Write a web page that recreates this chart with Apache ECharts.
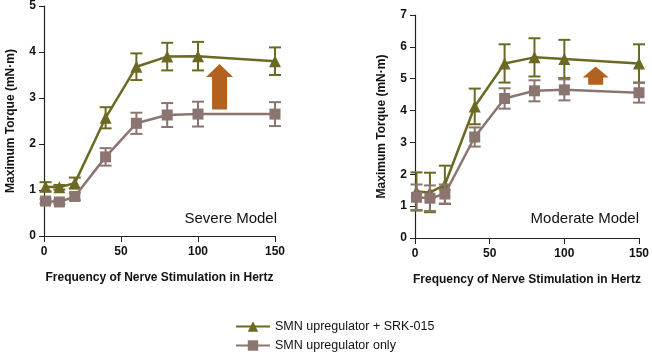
<!DOCTYPE html>
<html>
<head>
<meta charset="utf-8">
<script src="https://cdn.jsdelivr.net/npm/echarts@6/dist/echarts.min.js"></script>
<style>
  html, body { margin: 0; padding: 0; background: #fff; }
  #main { width: 652px; height: 352px; }
</style>
</head>
<body>
<div id="main"></div>
<script>
// 刺激频率 (Hz)
var freq = [1, 10, 20, 40, 60, 80, 100, 150]
// Severe model
var severeCombo = [1.07, 1.06, 1.15, 2.57, 3.68, 3.9, 3.91, 3.8]
var severeComboErr = [0.1, 0.05, 0.12, 0.23, 0.29, 0.3, 0.31, 0.3]
var severeOnly = [0.76, 0.74, 0.86, 1.72, 2.45, 2.63, 2.65, 2.65]
var severeOnlyErr = [0.05, 0.04, 0.08, 0.19, 0.23, 0.26, 0.27, 0.26]
// Moderate model
var moderateCombo = [1.46, 1.43, 1.67, 4.13, 5.48, 5.67, 5.62, 5.48]
var moderateComboErr = [0.6, 0.62, 0.6, 0.56, 0.6, 0.6, 0.6, 0.6]
var moderateOnly = [1.28, 1.25, 1.38, 3.17, 4.38, 4.62, 4.65, 4.56]
var moderateOnlyErr = [0.4, 0.4, 0.3, 0.3, 0.32, 0.33, 0.33, 0.31]
// arrows: [x, bottom, top]
var severeArrow = [114, 2.75, 3.74]
var moderateArrow = [121, 4.81, 5.38]
var seriesNames = ['SMN upregulator + SRK-015', 'SMN upregulator only']

var green = '#6b6a24'
var brown = '#8b7571'
var orange = '#b2621e'
var font = '"Liberation Sans", Arial, Helvetica, sans-serif'

function pairs(ys) {
  return freq.map(function(x, i) { return [x, ys[i]] })
}
function errData(ys, es) {
  return freq.map(function(x, i) { return [x, ys[i] - es[i], ys[i] + es[i]] })
}
function errSeries(ys, es, color, idx) {
  return {
    type: 'custom',
    xAxisIndex: idx,
    yAxisIndex: idx,
    silent: true,
    z: color === brown ? 3 : 1,
    data: errData(ys, es),
    renderItem: function(params, api) {
      var lo = api.coord([api.value(0), api.value(1)])
      var hi = api.coord([api.value(0), api.value(2)])
      var w = 6
      var st = { stroke: color, lineWidth: 2 }
      return {
        type: 'group',
        children: [
          { type: 'line', shape: { x1: lo[0], y1: lo[1], x2: hi[0], y2: hi[1] }, style: st },
          { type: 'line', shape: { x1: lo[0] - w, y1: lo[1], x2: lo[0] + w, y2: lo[1] }, style: st },
          { type: 'line', shape: { x1: hi[0] - w, y1: hi[1], x2: hi[0] + w, y2: hi[1] }, style: st }
        ]
      }
    }
  }
}
function arrowSeries(a, idx, shaftW, headW, headH) {
  return {
    type: 'custom',
    xAxisIndex: idx,
    yAxisIndex: idx,
    silent: true,
    data: [a],
    renderItem: function(params, api) {
      var b = api.coord([api.value(0), api.value(1)])
      var t = api.coord([api.value(0), api.value(2)])
      var x = b[0]
      var hb = t[1] + headH
      return {
        type: 'polygon',
        shape: {
          points: [
            [x - shaftW / 2, b[1]], [x - shaftW / 2, hb], [x - headW / 2, hb],
            [x, t[1]], [x + headW / 2, hb], [x + shaftW / 2, hb], [x + shaftW / 2, b[1]]
          ]
        },
        style: { fill: orange }
      }
    }
  }
}
function lineSeries(name, ys, color, symbol, size, idx) {
  return {
    name: name,
    type: 'line',
    xAxisIndex: idx,
    yAxisIndex: idx,
    data: pairs(ys),
    symbol: symbol,
    symbolSize: size,
    z: color === brown ? 4 : 2,
    lineStyle: { color: color, width: 2.5 },
    itemStyle: { color: color },
    emphasis: { disabled: true }
  }
}
function xAxis(idx) {
  return {
    type: 'value',
    gridIndex: idx,
    min: 0,
    max: 150,
    interval: 50,
    name: 'Frequency of Nerve Stimulation in Hertz',
    nameLocation: 'middle',
    nameGap: 36,
    nameTextStyle: { color: '#111', fontFamily: font, fontWeight: 'bold', fontSize: 12 },
    axisLine: { lineStyle: { color: '#222', width: 1.2 } },
    axisTick: { length: 6, lineStyle: { color: '#222' } },
    axisLabel: { color: '#111', fontFamily: font, fontWeight: 'bold', fontSize: 12, margin: 10 },
    splitLine: { show: false }
  }
}
function yAxis(idx, max) {
  return {
    type: 'value',
    gridIndex: idx,
    min: 0,
    max: max,
    interval: 1,
    name: 'Maximum Torque (mN·m)',
    nameLocation: 'middle',
    nameGap: 27,
    nameTextStyle: { color: '#111', fontFamily: font, fontWeight: 'bold', fontSize: 12 },
    axisLine: { show: true, lineStyle: { color: '#222', width: 1.2 } },
    axisTick: { show: true, length: 5, lineStyle: { color: '#222' } },
    axisLabel: { color: '#111', fontFamily: font, fontWeight: 'bold', fontSize: 12, margin: 8 },
    splitLine: { show: false }
  }
}
function legendItem(name, top) {
  return {
    left: 235,
    top: top,
    padding: 0,
    itemWidth: 34,
    itemHeight: 13,
    data: [name],
    selectedMode: false,
    textStyle: { color: '#111', fontFamily: font, fontSize: 12.5 }
  }
}

var myChart = echarts.init(document.getElementById('main'))
var option = {
  animation: false,
  backgroundColor: '#fff',
  grid: [
    { left: 44, top: 5, width: 231, height: 231 },
    { left: 415, top: 15, width: 224, height: 223 }
  ],
  xAxis: [xAxis(0), xAxis(1)],
  yAxis: [yAxis(0, 5), yAxis(1, 7)],
  legend: [legendItem(seriesNames[0], 320), legendItem(seriesNames[1], 339)],
  graphic: [
    { type: 'text', right: 652 - 277, top: 211, style: { text: 'Severe Model', font: '15px ' + font, fill: '#111' } },
    { type: 'text', right: 652 - 639, top: 211, style: { text: 'Moderate Model', font: '15px ' + font, fill: '#111' } }
  ],
  series: [
    errSeries(severeCombo, severeComboErr, green, 0),
    lineSeries(seriesNames[0], severeCombo, green, 'triangle', 12, 0),
    errSeries(severeOnly, severeOnlyErr, brown, 0),
    lineSeries(seriesNames[1], severeOnly, brown, 'rect', 11, 0),
    arrowSeries(severeArrow, 0, 15, 27, 13),
    errSeries(moderateCombo, moderateComboErr, green, 1),
    lineSeries(seriesNames[0], moderateCombo, green, 'triangle', 12, 1),
    errSeries(moderateOnly, moderateOnlyErr, brown, 1),
    lineSeries(seriesNames[1], moderateOnly, brown, 'rect', 11, 1),
    arrowSeries(moderateArrow, 1, 15, 26, 11)
  ]
}
myChart.setOption(option)
</script>
</body>
</html>
